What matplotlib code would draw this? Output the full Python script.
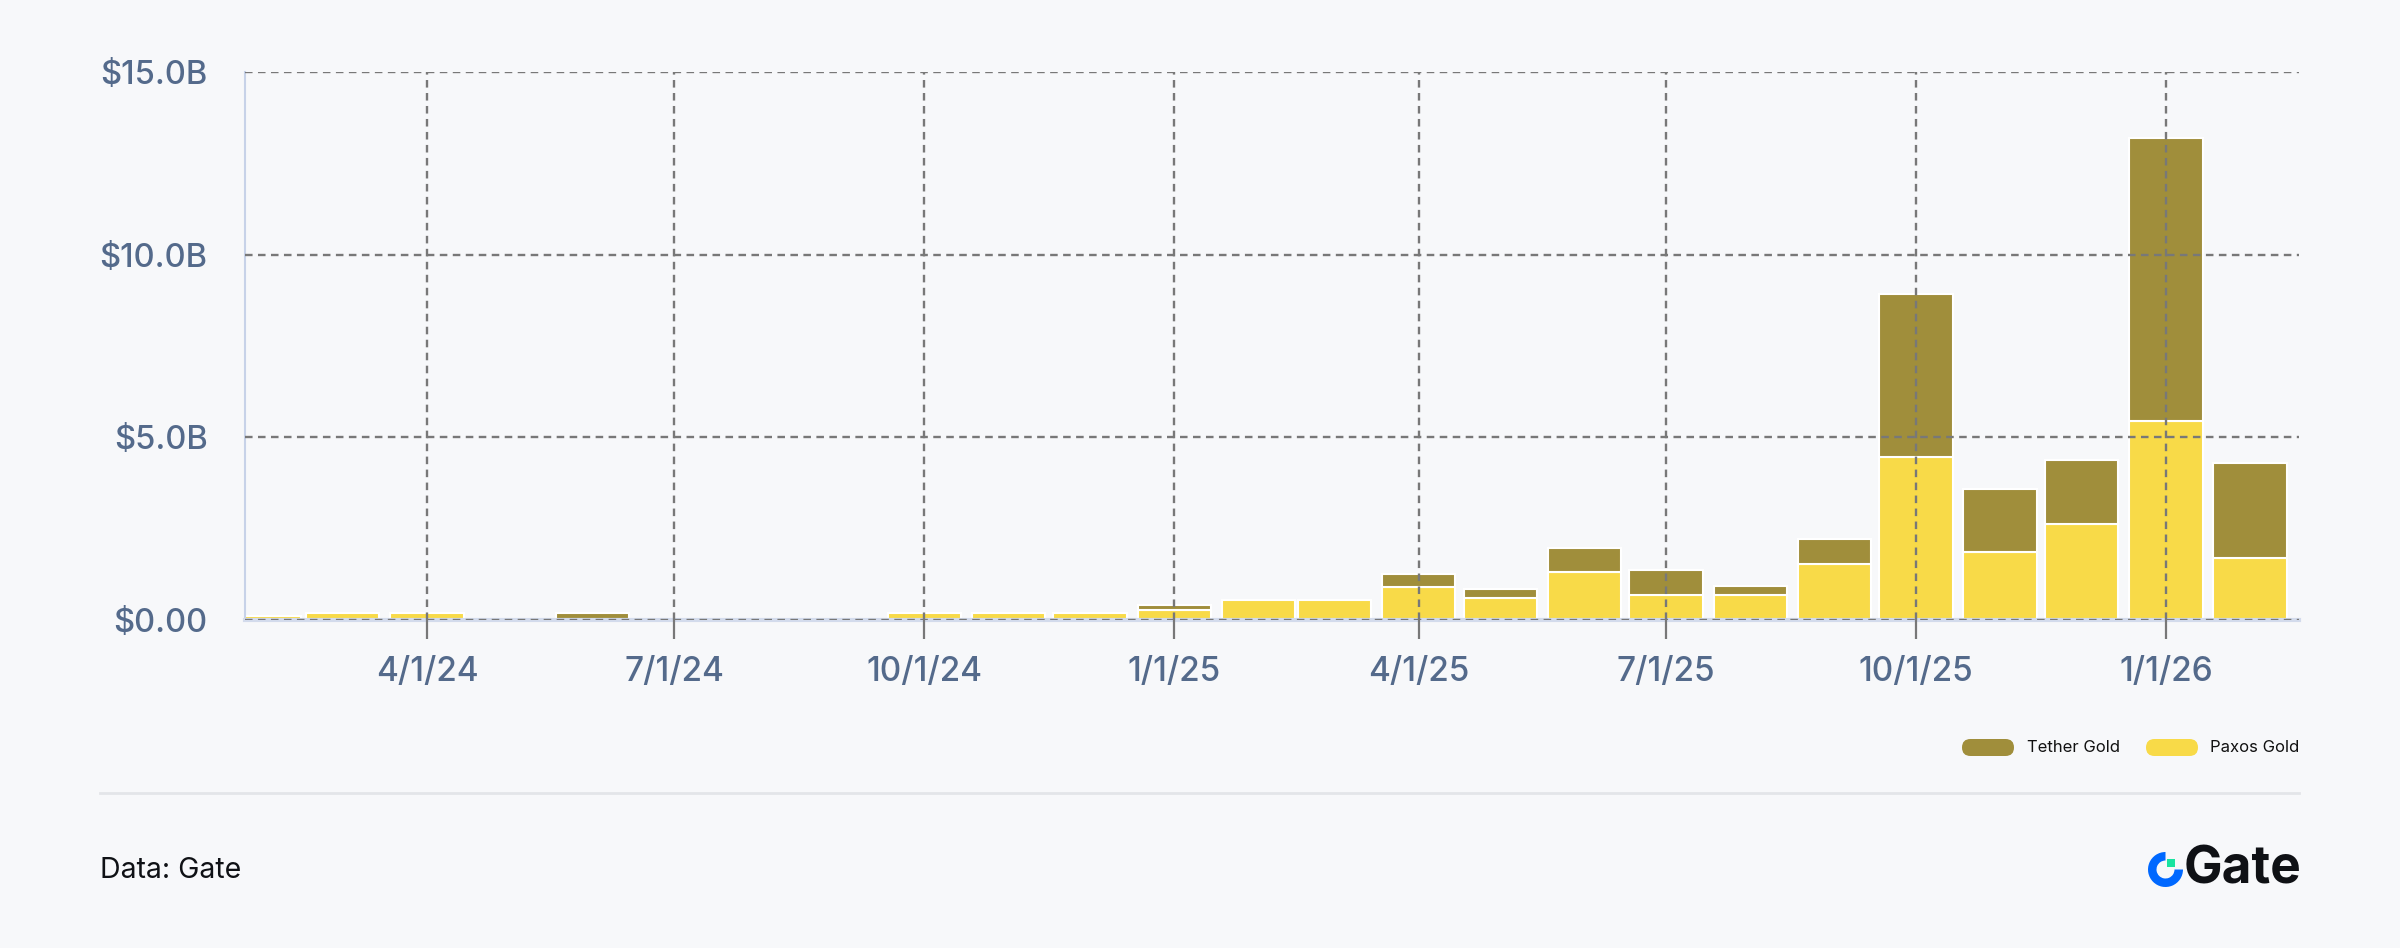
import matplotlib
matplotlib.use("Agg")
import matplotlib.pyplot as plt
import matplotlib.dates as mdates
from matplotlib.patches import FancyBboxPatch, Wedge, Rectangle
import numpy as np
import pandas as pd

# ── données (milliards USD, mensuel) ──
months = pd.date_range("2024-02-01", "2026-02-01", freq="MS")
paxos = [0.12, 0.18, 0.18, 0.0, 0.0, 0.0, 0.0, 0.0, 0.20, 0.20, 0.20, 0.27,
         0.54, 0.54, 0.89, 0.61, 1.32, 0.68, 0.68, 1.54, 4.47, 1.86, 2.64, 5.45, 1.69]
tether = [0.0, 0.0, 0.0, 0.0, 0.18, 0.0, 0.0, 0.0, 0.0, 0.0, 0.0, 0.15,
          0.0, 0.0, 0.37, 0.25, 0.64, 0.69, 0.24, 0.67, 4.44, 1.72, 1.74, 7.75, 2.61]
tick_dates = ["2024-04-01", "2024-07-01", "2024-10-01", "2025-01-01",
              "2025-04-01", "2025-07-01", "2025-10-01", "2026-01-01"]
tick_labels = ["4/1/24", "7/1/24", "10/1/24", "1/1/25", "4/1/25", "7/1/25", "10/1/25", "1/1/26"]
y_ticks = [0, 5, 10, 15]
y_labels = ["$0.00", "$5.0B", "$10.0B", "$15.0B"]

BG = "#f7f8fa"
OLIVE = "#a08e3b"
YELLOW = "#f8da48"
GRID = "#787878"
LABEL = "#546a8b"

plt.rcParams["font.family"] = ["Inter", "DejaVu Sans"]

fig = plt.figure(figsize=(24, 9.48), dpi=100, facecolor=BG)
ax = fig.add_axes([245/2400, 328/948, (2299-245)/2400, 548/948])
ax.set_facecolor(BG)

x = mdates.date2num(months.to_pydatetime())
pax = np.array(paxos)
teth = np.array(tether)
width = 27

mask_p = pax > 0
mask_t = teth > 0
ax.bar(x[mask_p], pax[mask_p], width=width, color=YELLOW, edgecolor="white", linewidth=1.5, zorder=1)
ax.bar(x[mask_t], teth[mask_t], bottom=pax[mask_t], width=width, color=OLIVE,
       edgecolor="white", linewidth=1.5, zorder=1)

ax.set_xlim(mdates.date2num(pd.Timestamp("2024-01-25")), mdates.date2num(pd.Timestamp("2026-02-19")))
ax.set_ylim(0, 15)
ax.set_yticks(y_ticks)
ax.set_yticklabels(y_labels)
ax.set_xticks(mdates.date2num(pd.to_datetime(tick_dates).to_pydatetime()))
ax.set_xticklabels(tick_labels)

ax.set_axisbelow(False)
ax.grid(True, color=GRID, linestyle=(0, (3.2, 2.3)), linewidth=1.7)
ax.tick_params(axis="x", length=14, width=1.6, color=GRID, pad=12, labelsize=24, labelcolor=LABEL)
ax.tick_params(axis="y", length=0, pad=27, labelsize=23.5, labelcolor=LABEL)
for lab in ax.get_xticklabels() + ax.get_yticklabels():
    lab.set_fontweight(500)

ax.spines[["top", "right"]].set_visible(False)
ax.spines["left"].set_color("#c7d2e8")
ax.spines["left"].set_linewidth(1.5)
ax.spines["bottom"].set_color("#d3dbec")
ax.spines["bottom"].set_linewidth(3)

# ── légende (pastilles arrondies) ──
H = 9.48
def pill(x0, color):
    p = FancyBboxPatch((x0/100, H - 756/100), 0.52, 0.17,
                       boxstyle="round,pad=0,rounding_size=0.085",
                       transform=fig.dpi_scale_trans, facecolor=color, edgecolor="none")
    fig.patches.append(p)

pill(1962, OLIVE)
fig.text(2027/2400, (948-747.5)/948, "Tether Gold", fontsize=12, color="#111111", va="center")
pill(2146, YELLOW)
fig.text(2210/2400, (948-747.5)/948, "Paxos Gold", fontsize=12, color="#111111", va="center")

# ── séparateur ──
fig.add_artist(plt.Line2D([100/2400, 2299/2400], [(948-793)/948]*2,
                          transform=fig.transFigure, color="#e3e5e9", linewidth=2))

# ── source + logo ──
fig.text(100/2400, (948-871)/948, "Data: Gate", fontsize=20.5, color="#0f1115", va="center")

ring = Wedge((21.655, H - 8.695), 0.175, 90, 360, width=0.085,
             transform=fig.dpi_scale_trans, facecolor="#0068ff", edgecolor="none")
fig.patches.append(ring)
sq = Rectangle((21.665, H - 8.67), 0.085, 0.085, transform=fig.dpi_scale_trans,
               facecolor="#19e3a0", edgecolor="none")
fig.patches.append(sq)
fig.text(2184/2400, (948-870)/948, "Gate", fontsize=37, fontweight="bold",
         color="#0f1115", va="center")

fig.savefig("out.png", dpi=100, facecolor=BG)
